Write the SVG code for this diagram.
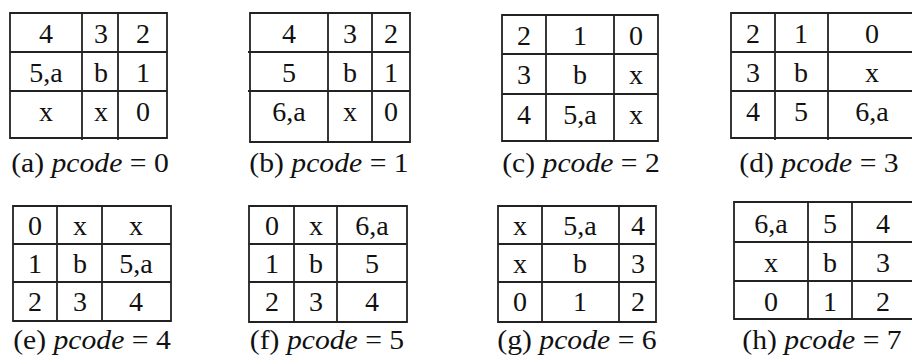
<svg xmlns="http://www.w3.org/2000/svg" width="912" height="356" viewBox="0 0 912 356">
<style>
.g{fill:none;stroke:#222;stroke-width:1.8}
.c{font-family:"Liberation Serif","Times New Roman",serif;font-size:28px;text-anchor:middle;fill:#111}
.cap{font-family:"Liberation Serif","Times New Roman",serif;font-size:28px;text-anchor:middle;fill:#111;transform-box:fill-box;transform-origin:center;transform:scaleX(1.06)}
.i{font-style:italic}
</style>
<rect width="912" height="356" fill="#fff"/>
<g id="table-a">
<path class="g" d="M10 13H167V138H10ZM10 52H167M10 91H167M82 13V140M118 13V140"/>
<text class="c" x="46" y="43">4</text><text class="c" x="101" y="43">3</text><text class="c" x="143" y="43">2</text>
<text class="c" x="46" y="82">5,a</text><text class="c" x="101" y="82">b</text><text class="c" x="143" y="82">1</text>
<text class="c" x="46" y="121">x</text><text class="c" x="101" y="121">x</text><text class="c" x="143" y="121">0</text>
<text class="cap" x="90" y="172">(a) <tspan class="i">pcode</tspan> = 0</text>
</g>
<g id="table-b">
<path class="g" d="M250 13H410V142H250ZM248 52H410M248 91H410M328 13V142M372 13V142"/>
<text class="c" x="289" y="43">4</text><text class="c" x="350" y="43">3</text><text class="c" x="391" y="43">2</text>
<text class="c" x="289" y="82">5</text><text class="c" x="350" y="82">b</text><text class="c" x="391" y="82">1</text>
<text class="c" x="289" y="121">6,a</text><text class="c" x="350" y="121">x</text><text class="c" x="391" y="121">0</text>
<text class="cap" x="329" y="172">(b) <tspan class="i">pcode</tspan> = 1</text>
</g>
<g id="table-c">
<path class="g" d="M502 15H658V141H502ZM502 54H658M502 94H658M546 15V141M614 15V141"/>
<text class="c" x="524" y="45">2</text><text class="c" x="580" y="45">1</text><text class="c" x="636" y="45">0</text>
<text class="c" x="524" y="84">3</text><text class="c" x="580" y="84">b</text><text class="c" x="636" y="84">x</text>
<text class="c" x="524" y="124">4</text><text class="c" x="580" y="124">5,a</text><text class="c" x="636" y="124">x</text>
<text class="cap" x="581" y="172">(c) <tspan class="i">pcode</tspan> = 2</text>
</g>
<g id="table-d">
<path class="g" d="M916 13H731V138H916M731 52H916M731 91H916M775 13V140M828 13V140"/>
<text class="c" x="753" y="43">2</text><text class="c" x="801" y="43">1</text><text class="c" x="872" y="43">0</text>
<text class="c" x="753" y="82">3</text><text class="c" x="801" y="82">b</text><text class="c" x="872" y="82">x</text>
<text class="c" x="753" y="121">4</text><text class="c" x="801" y="121">5</text><text class="c" x="872" y="121">6,a</text>
<text class="cap" x="819" y="172">(d) <tspan class="i">pcode</tspan> = 3</text>
</g>
<g id="table-e">
<path class="g" d="M13 206H171V321H13ZM13 244H171M13 282H171M57 206V322M102 206V322"/>
<text class="c" x="35" y="235">0</text><text class="c" x="80" y="235">x</text><text class="c" x="136" y="235">x</text>
<text class="c" x="35" y="273">1</text><text class="c" x="80" y="273">b</text><text class="c" x="136" y="273">5,a</text>
<text class="c" x="35" y="311">2</text><text class="c" x="80" y="311">3</text><text class="c" x="136" y="311">4</text>
<text class="cap" x="92" y="349">(e) <tspan class="i">pcode</tspan> = 4</text>
</g>
<g id="table-f">
<path class="g" d="M249 206H407V322H249ZM249 244H407M249 282H407M294 206V323M337 206V323"/>
<text class="c" x="272" y="235">0</text><text class="c" x="316" y="235">x</text><text class="c" x="372" y="235">6,a</text>
<text class="c" x="272" y="273">1</text><text class="c" x="316" y="273">b</text><text class="c" x="372" y="273">5</text>
<text class="c" x="272" y="311">2</text><text class="c" x="316" y="311">3</text><text class="c" x="372" y="311">4</text>
<text class="cap" x="327" y="349">(f) <tspan class="i">pcode</tspan> = 5</text>
</g>
<g id="table-g">
<path class="g" d="M498 206H656V322H498ZM498 244H656M498 282H656M542 206V323M619 206V323"/>
<text class="c" x="520" y="235">x</text><text class="c" x="580" y="235">5,a</text><text class="c" x="638" y="235">4</text>
<text class="c" x="520" y="273">x</text><text class="c" x="580" y="273">b</text><text class="c" x="638" y="273">3</text>
<text class="c" x="520" y="311">0</text><text class="c" x="580" y="311">1</text><text class="c" x="638" y="311">2</text>
<text class="cap" x="577" y="349">(g) <tspan class="i">pcode</tspan> = 6</text>
</g>
<g id="table-h">
<path class="g" d="M916 202H734V319H916M734 242H916M734 281H916M808 202V319M852 202V319"/>
<text class="c" x="771" y="233">6,a</text><text class="c" x="830" y="233">5</text><text class="c" x="883" y="233">4</text>
<text class="c" x="771" y="272">x</text><text class="c" x="830" y="272">b</text><text class="c" x="883" y="272">3</text>
<text class="c" x="771" y="311">0</text><text class="c" x="830" y="311">1</text><text class="c" x="883" y="311">2</text>
<text class="cap" x="822" y="349">(h) <tspan class="i">pcode</tspan> = 7</text>
</g>
</svg>
